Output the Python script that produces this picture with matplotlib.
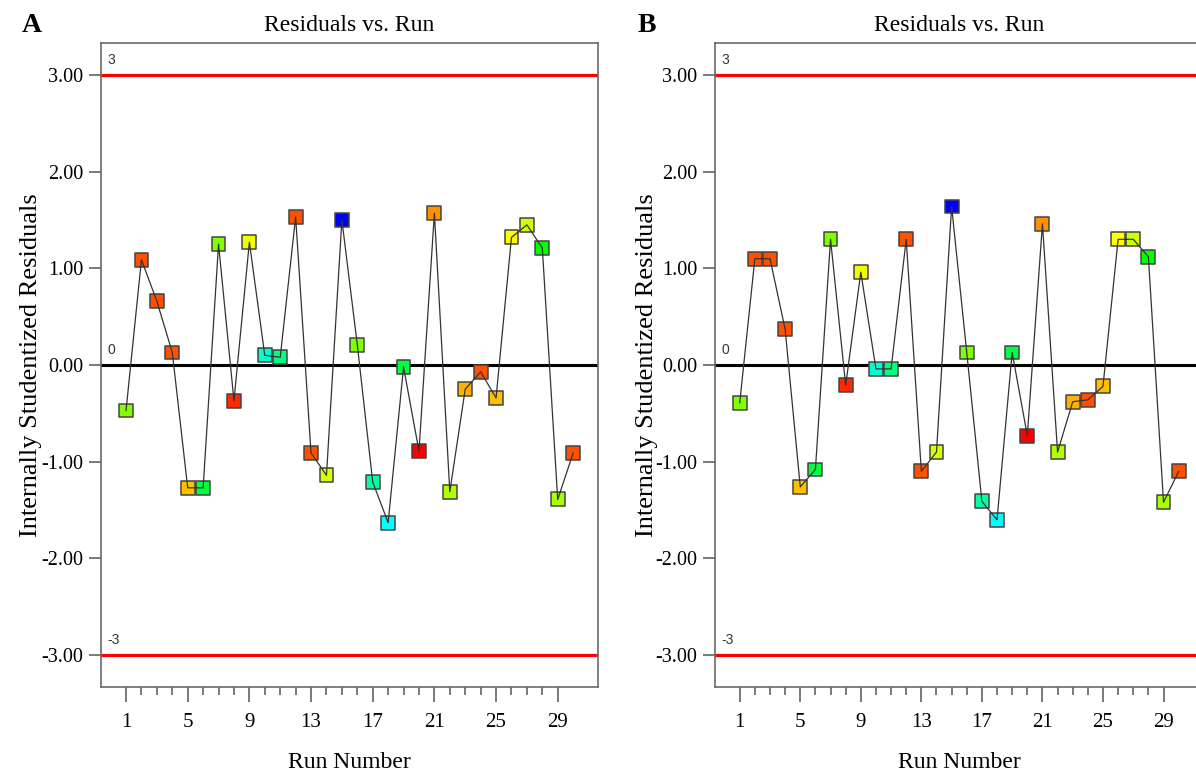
import numpy as np
import matplotlib
matplotlib.use("Agg")
import matplotlib.pyplot as plt
from matplotlib.ticker import FixedLocator

# run numbers 1..30
runs = list(range(1, 31))

# internally studentized residuals, panel A
resid_a = [-0.47, 1.09, 0.66, 0.13, -1.27, -1.27, 1.25, -0.37, 1.27, 0.10,
           0.08, 1.53, -0.91, -1.14, 1.50, 0.21, -1.21, -1.63, -0.02, -0.89,
           1.57, -1.31, -0.25, -0.07, -0.34, 1.32, 1.45, 1.21, -1.39, -0.91]

# internally studentized residuals, panel B
resid_b = [-0.39, 1.10, 1.10, 0.37, -1.26, -1.08, 1.30, -0.21, 0.96, -0.04,
           -0.04, 1.30, -1.10, -0.90, 1.64, 0.13, -1.41, -1.60, 0.13, -0.73,
           1.46, -0.90, -0.38, -0.36, -0.22, 1.30, 1.30, 1.12, -1.42, -1.10]

# colour of each run's marker (same in both panels)
point_colors = ['#80FF00', '#FF5000', '#FF5000', '#FF5000', '#FFC000',
                '#00FF40', '#80FF00', '#FF2800', '#F0FF00', '#00FFD0',
                '#00FF80', '#FF5000', '#FF5000', '#D8FF00', '#0000FF',
                '#80FF00', '#00FFA0', '#00FFFF', '#00FF40', '#FF0000',
                '#FF9000', '#B0FF00', '#FFB000', '#FF5000', '#FFC000',
                '#FFFF00', '#D0FF00', '#00FF00', '#A8FF00', '#FF5000']

limits = [3, 0, -3]
y_ticks = [3, 2, 1, 0, -1, -2, -3]
x_major = [1, 5, 9, 13, 17, 21, 25, 29]

plt.rcParams['font.family'] = ['Liberation Serif', 'DejaVu Serif']

fig = plt.figure(figsize=(11.96, 7.8), dpi=100)


def residual_panel(rect, resid, letter):
    ax = fig.add_axes(rect)
    # control limits
    ax.axhline(limits[0], color='#FF0000', lw=2.3, zorder=1)
    ax.axhline(limits[2], color='#FF0000', lw=2.3, zorder=1)
    ax.axhline(limits[1], color='black', lw=2.2, zorder=1)
    for v in limits:
        ax.text(-0.2, v + 0.08, str(v), fontsize=10, color='#333333',
                family=['Liberation Sans', 'DejaVu Sans'], va='bottom', ha='left')

    # residuals: markers first, connecting line on top
    ax.scatter(runs, resid, marker='s', s=100, c=point_colors,
               edgecolors='#444444', linewidths=1.1, zorder=2)
    ax.plot(runs, resid, color='#333333', lw=0.9, zorder=3)

    ax.set_xlim(-0.62, 31.62)
    ax.set_ylim(-3.33, 3.33)
    ax.set_yticks(y_ticks)
    ax.set_yticklabels(['%.2f' % v for v in y_ticks])
    ax.xaxis.set_major_locator(FixedLocator(x_major))
    ax.xaxis.set_minor_locator(FixedLocator([r for r in range(2, 29) if r not in x_major]))
    ax.tick_params(axis='y', length=9, width=1.1, color='#555555', pad=4, labelsize=14.5)
    ax.tick_params(axis='x', which='major', length=11, width=1.1, color='#555555',
                   pad=8, labelsize=15)
    ax.tick_params(axis='x', which='minor', length=5.5, width=1.1, color='#555555')
    for s in ax.spines.values():
        s.set_color('#6a6a6a')
        s.set_linewidth(1.2)

    ax.set_title('Residuals vs. Run', fontsize=17, pad=9)
    ax.set_xlabel('Run Number', fontsize=17, labelpad=14)
    ax.set_ylabel('Internally Studentized Residuals', fontsize=19)
    ax.yaxis.set_label_coords(-0.118, 0.5)
    ax.text(-0.16, 1.027, letter, transform=ax.transAxes, fontsize=20,
            fontweight='bold', ha='left', va='center')
    return ax


residual_panel([0.0845, 0.1192, 0.4156, 0.8256], resid_a, 'A')
residual_panel([0.5980, 0.1192, 0.4080, 0.8256], resid_b, 'B')

plt.savefig('out.png', dpi=100)
